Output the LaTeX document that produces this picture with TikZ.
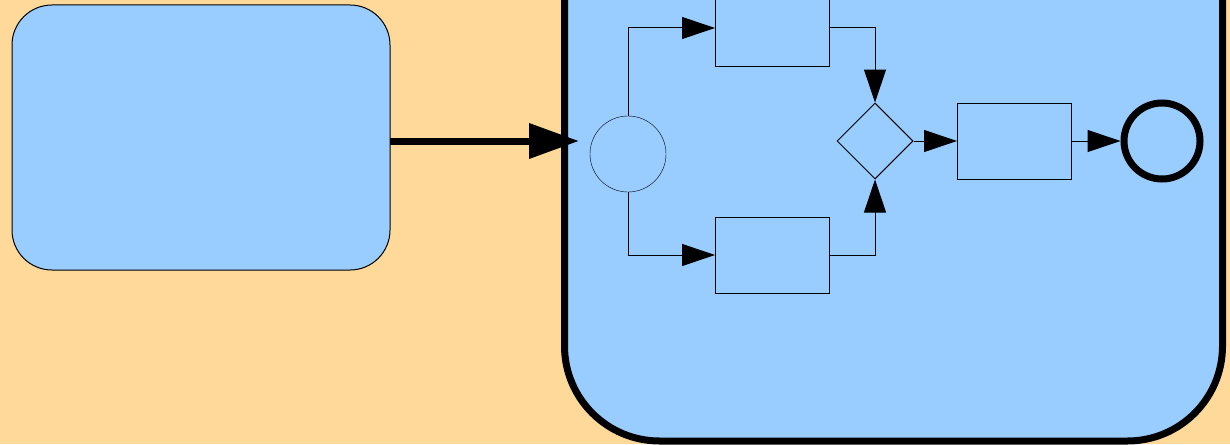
\documentclass[tikz,border=0pt]{standalone}
\usetikzlibrary{arrows.meta,shapes.geometric}
\definecolor{bgc}{RGB}{255,217,153}
\definecolor{boxc}{RGB}{153,204,255}
\begin{document}
\begin{tikzpicture}[x=1pt,y=-1pt,
  flow/.style={draw=black,line width=1pt,-{Triangle[length=33pt,width=22pt]}},
  task/.style={draw=black,line width=1pt,fill=boxc,minimum width=114pt,minimum height=76pt,inner sep=0pt,outer sep=0pt},
  evt/.style={circle,draw=black,fill=boxc,minimum size=76pt,inner sep=0pt}]
\useasboundingbox (0,0) rectangle (1230,444);
\clip (0,0) rectangle (1230,444);
\fill[bgc] (0,0) rectangle (1230,444);
% pool
\node[draw=black,line width=7pt,fill=boxc,rounded corners=95pt,minimum width=658pt,minimum height=541pt,inner sep=0pt,outer sep=0pt] (pool) at (893.5,170.5) {};
% lane
\node[draw=black,line width=1pt,fill=boxc,rounded corners=40pt,minimum width=378pt,minimum height=265pt,inner sep=0pt,outer sep=0pt] (lane) at (201,137.5) {};
% nodes
\node[evt] (start) at (628,154) {};
\node[task] (t1) at (772,28) {};
\node[task] (t2) at (772,255) {};
\node[diamond,draw=black,line width=1pt,fill=boxc,minimum size=76pt,inner sep=0pt,aspect=1] (gw) at (875,141) {};
\node[task] (t3) at (1014,141) {};
\node[evt,line width=7pt] (end) at (1162,141) {};
% thick arrow
\coordinate (aend) at (579,141);
\draw[line width=7pt,-{Triangle[length=50pt,width=34pt]}] (lane.east |- aend) -- (aend);
% flows
\draw[flow] (start.north) |- (t1.west);
\draw[flow] (start.south) |- (t2.west);
\draw[flow] (t1.east) -| (gw.north);
\draw[flow] (t2.east) -| (gw.south);
\draw[flow] (gw.east) -- (t3.west);
\draw[flow] (t3.east) -- (end.west);
\end{tikzpicture}
\end{document}
